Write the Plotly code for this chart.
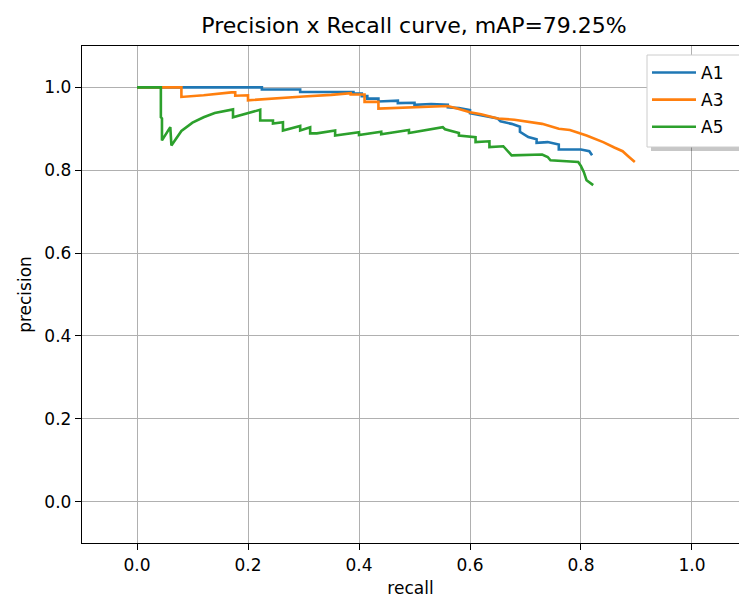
import plotly.graph_objects as go

# ---- data ----
a1_recall = [0.0, 0.225, 0.225, 0.294, 0.294, 0.39, 0.39, 0.405, 0.405, 0.415, 0.415, 0.435, 0.435,
             0.47, 0.47, 0.50, 0.50, 0.53, 0.56, 0.56, 0.58, 0.60, 0.60, 0.63, 0.65, 0.655, 0.675,
             0.69, 0.69, 0.705, 0.72, 0.72, 0.74, 0.76, 0.76, 0.80, 0.81, 0.815, 0.82]
a1_precision = [1.0, 1.0, 0.995, 0.995, 0.989, 0.989, 0.985, 0.985, 0.979, 0.979, 0.973, 0.973, 0.966,
                0.968, 0.962, 0.963, 0.958, 0.96, 0.958, 0.952, 0.95, 0.945, 0.938, 0.93, 0.925, 0.918, 0.912,
                0.905, 0.893, 0.88, 0.875, 0.866, 0.868, 0.862, 0.85, 0.85, 0.848, 0.846, 0.836]

a3_recall = [0.0, 0.08, 0.08, 0.12, 0.17, 0.177, 0.177, 0.20, 0.20, 0.25, 0.30, 0.35, 0.385, 0.385, 0.41,
             0.41, 0.435, 0.435, 0.47, 0.50, 0.53, 0.56, 0.58, 0.60, 0.62, 0.65, 0.68, 0.70, 0.73,
             0.76, 0.78, 0.81, 0.825, 0.84, 0.86, 0.875, 0.885, 0.897]
a3_precision = [1.0, 1.0, 0.977, 0.981, 0.988, 0.988, 0.980, 0.981, 0.969, 0.974, 0.978, 0.982, 0.986, 0.983, 0.983,
                0.965, 0.965, 0.949, 0.951, 0.953, 0.955, 0.955, 0.948, 0.94, 0.935, 0.925, 0.922, 0.918, 0.912,
                0.90, 0.897, 0.884, 0.876, 0.868, 0.855, 0.846, 0.834, 0.82]

a5_recall = [0.0, 0.043, 0.043, 0.045, 0.045, 0.06, 0.062, 0.08, 0.10, 0.12, 0.14, 0.173, 0.173, 0.222,
             0.222, 0.245, 0.245, 0.263, 0.263, 0.294, 0.294, 0.312, 0.312, 0.324, 0.357, 0.357, 0.40,
             0.40, 0.44, 0.44, 0.49, 0.49, 0.551, 0.555, 0.58, 0.58, 0.61, 0.61, 0.635, 0.635, 0.66,
             0.675, 0.73, 0.74, 0.745, 0.795, 0.80, 0.805, 0.81, 0.822]
a5_precision = [1.0, 1.0, 0.928, 0.925, 0.872, 0.904, 0.86, 0.895, 0.915, 0.928, 0.938, 0.947, 0.928, 0.946,
                0.92, 0.92, 0.913, 0.916, 0.896, 0.907, 0.896, 0.904, 0.889, 0.889, 0.896, 0.884, 0.892,
                0.885, 0.893, 0.887, 0.897, 0.89, 0.904, 0.899, 0.89, 0.884, 0.88, 0.868, 0.87, 0.856, 0.858,
                0.836, 0.838, 0.832, 0.824, 0.82, 0.81, 0.796, 0.776, 0.764]

series_names = ["A1", "A3", "A5"]
series_colors = ["#1f77b4", "#ff7f0e", "#2ca02c"]
tick_vals = [0.0, 0.2, 0.4, 0.6, 0.8, 1.0]
tick_text = ["0.0", "0.2", "0.4", "0.6", "0.8", "1.0"]

FONT = "DejaVu Sans, Verdana, sans-serif"

fig = go.Figure()
for name, rx, py, col in zip(series_names,
                             [a1_recall, a3_recall, a5_recall],
                             [a1_precision, a3_precision, a5_precision],
                             series_colors):
    fig.add_trace(go.Scatter(x=rx, y=py, mode="lines", name=name, legendgroup=name,
                             line=dict(color=col, width=2.6)))

W, H = 739, 599
L, T, B, R = 82, 46, 56, 0
pw, ph = W - L - R, H - T - B


def px_x(p):
    return (p - L) / pw


def px_y(p):
    return 1 - (p - T) / ph


# legend frame (extends past the right edge, like the cropped reference) and its shadow
fig.add_shape(type="rect", xref="paper", yref="paper",
              x0=px_x(651), x1=px_x(770), y0=px_y(151), y1=px_y(59),
              fillcolor="rgba(0,0,0,0.22)", line=dict(width=0), layer="above")
fig.add_shape(type="rect", xref="paper", yref="paper",
              x0=px_x(647), x1=px_x(766), y0=px_y(147), y1=px_y(55),
              fillcolor="white", line=dict(color="#cccccc", width=1), layer="above")

fig.update_layout(
    width=W, height=H,
    margin=dict(l=L, r=R, t=T, b=B, autoexpand=False),
    paper_bgcolor="white", plot_bgcolor="white",
    font=dict(family=FONT, size=17, color="black"),
    title=dict(text="Precision x Recall curve, mAP=79.25%",
               x=414 / W, xanchor="center", xref="container",
               y=1 - 25 / H, yanchor="middle", yref="container",
               font=dict(family=FONT, size=22, color="black")),
    showlegend=True,
    legend=dict(x=px_x(647), y=px_y(55), xanchor="left", yanchor="top",
                bgcolor="rgba(0,0,0,0)", borderwidth=0,
                font=dict(family=FONT, size=17, color="black"),
                traceorder="grouped", tracegroupgap=2, itemwidth=44),
    xaxis=dict(range=[-0.0991, 1.0847], tickvals=tick_vals, ticktext=tick_text,
               showgrid=True, gridcolor="#b0b0b0", gridwidth=1.4,
               zeroline=False, showline=True, linecolor="black", linewidth=1.4,
               mirror=True, ticks="outside", ticklen=6, tickwidth=1.4, tickcolor="black",
               automargin=False,
               title=dict(text="recall", standoff=8, font=dict(size=17)),
               tickfont=dict(size=17)),
    yaxis=dict(range=[-0.1, 1.1], tickvals=tick_vals, ticktext=tick_text,
               showgrid=True, gridcolor="#b0b0b0", gridwidth=1.4,
               zeroline=False, showline=True, linecolor="black", linewidth=1.4,
               mirror=False, ticks="outside", ticklen=6, tickwidth=1.4, tickcolor="black",
               automargin=False,
               title=dict(text="precision", standoff=8, font=dict(size=17)),
               tickfont=dict(size=17)),
)

fig.write_html("out.html", config={"displayModeBar": False},
               post_script="document.body.style.margin='0';")
